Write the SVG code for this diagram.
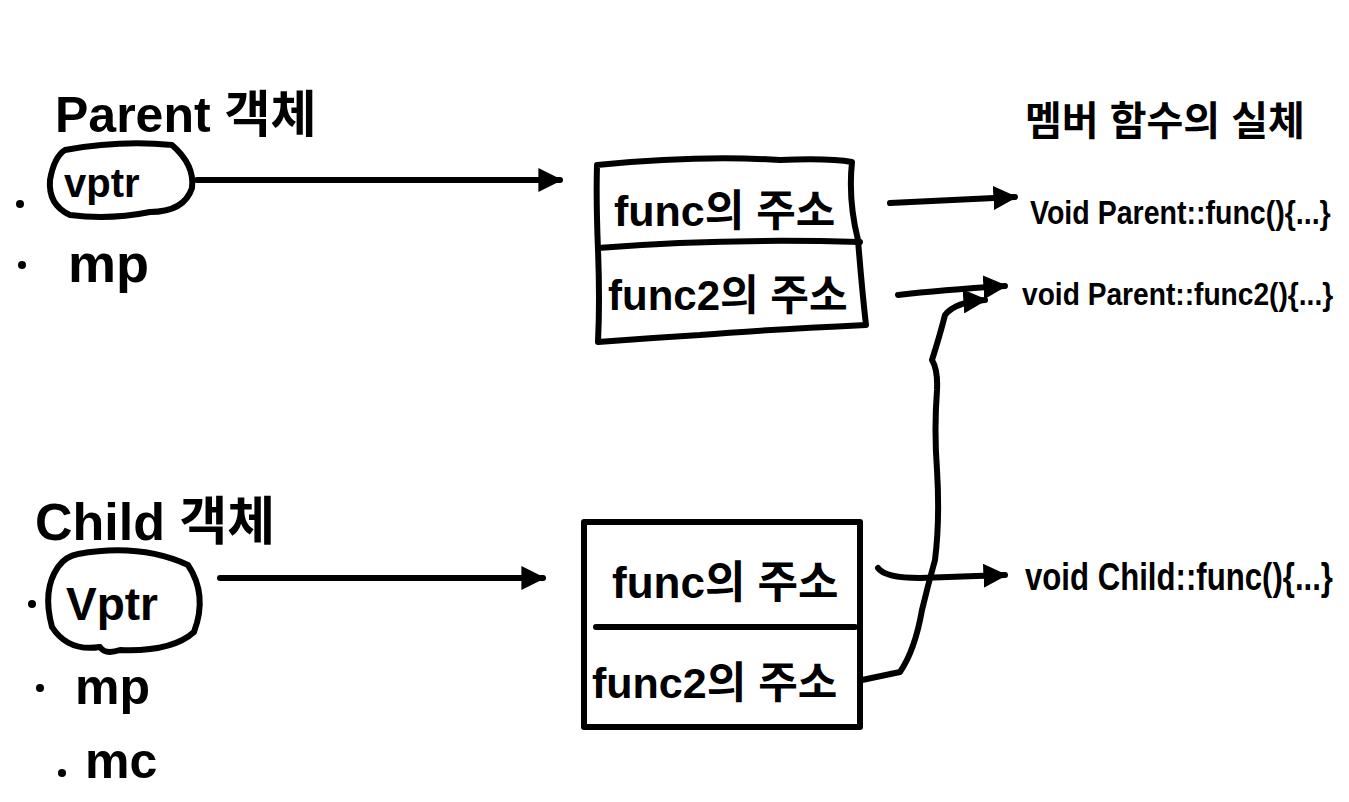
<svg xmlns="http://www.w3.org/2000/svg" width="1349" height="802" viewBox="0 0 1349 802">
<style>
.ln{fill:none;stroke:#000;stroke-width:6;stroke-linecap:round;stroke-linejoin:round}
.t{font-family:"Liberation Sans","Noto Sans CJK KR",sans-serif;font-weight:bold;fill:#000}
.dot{fill:#000}
</style>
<defs>
<marker id="ah" viewBox="0 0 10 10" refX="9" refY="5" markerWidth="4" markerHeight="4" orient="auto" markerUnits="strokeWidth">
<path d="M0,0 L10,5 L0,10 Z" fill="#000"/>
</marker>
</defs>
<rect width="1349" height="802" fill="#fff"/>

<g id="parent-object">
<text class="t" x="55" y="132" font-size="50">Parent 객체</text>
<path class="ln" d="M65,150 Q120,140 172,145 Q195,165 192,188 Q184,212 150,212 Q110,220 70,215 Q48,205 50,180 Q54,157 65,150 Z"/>
<circle class="dot" cx="20" cy="204" r="4"/>
<text class="t" x="64" y="197" font-size="40">vptr</text>
<circle class="dot" cx="22" cy="265" r="4"/>
<text class="t" x="68" y="282" font-size="54">mp</text>
</g>

<g id="child-object">
<text class="t" x="35" y="540" font-size="52">Child 객체</text>
<path class="ln" d="M78,554 Q140,543 188,565 Q208,595 194,632 Q172,652 120,650 Q105,655 100,647 Q68,652 52,627 Q42,590 58,567 Q66,556 78,554 Z"/>
<circle class="dot" cx="32" cy="604" r="4"/>
<text class="t" x="66" y="620" font-size="46">Vptr</text>
<circle class="dot" cx="40" cy="688" r="4"/>
<text class="t" x="75" y="704" font-size="50">mp</text>
<circle class="dot" cx="62" cy="773" r="4"/>
<text class="t" x="85" y="778" font-size="50">mc</text>
</g>

<g id="parent-vtable">
<path class="ln" d="M597,165 Q700,155 780,160 Q830,158 852,162 Q848,200 858,240 Q862,290 866,325 Q760,330 700,335 Q650,338 598,342 Q600,300 598,250 Q596,200 597,165 Z"/>
<path class="ln" d="M598,248 Q720,238 860,242"/>
<text class="t" x="614" y="226" font-size="43">func의 주소</text>
<text class="t" x="608" y="310" font-size="42">func2의 주소</text>
</g>

<g id="child-vtable">
<rect class="ln" x="584" y="522" width="276" height="205"/>
<path class="ln" d="M596,627 L855,627"/>
<text class="t" x="612" y="598" font-size="44">func의 주소</text>
<text class="t" x="592" y="698" font-size="43">func2의 주소</text>
</g>

<g id="function-bodies">
<text class="t" x="1025" y="135" font-size="40">멤버 함수의 실체</text>
<text class="t" x="0" y="0" font-size="34" transform="translate(1030,224) scale(0.84,1)">Void Parent::func(){...}</text>
<text class="t" x="0" y="0" font-size="32" transform="translate(1022,305) scale(0.88,1)">void Parent::func2(){...}</text>
<text class="t" x="0" y="0" font-size="38" transform="translate(1025,590) scale(0.82,1)">void Child::func(){...}</text>
</g>

<g id="connectors">
<path class="ln" d="M197,180 L560,180" marker-end="url(#ah)"/>
<path class="ln" d="M890,203 L1015,197" marker-end="url(#ah)"/>
<path class="ln" d="M898,295 Q940,290 1005,286" marker-end="url(#ah)"/>
<path class="ln" d="M220,578 L543,578" marker-end="url(#ah)"/>
<path class="ln" d="M878,568 Q885,578 920,578 L1005,575" marker-end="url(#ah)"/>
<path class="ln" d="M862,680 L900,672 Q915,650 922,610 Q928,585 935,560 Q940,520 937,470 Q934,430 937,390 Q938,370 932,360 Q940,335 945,315 Q955,302 985,300" marker-end="url(#ah)"/>
</g>
</svg>
